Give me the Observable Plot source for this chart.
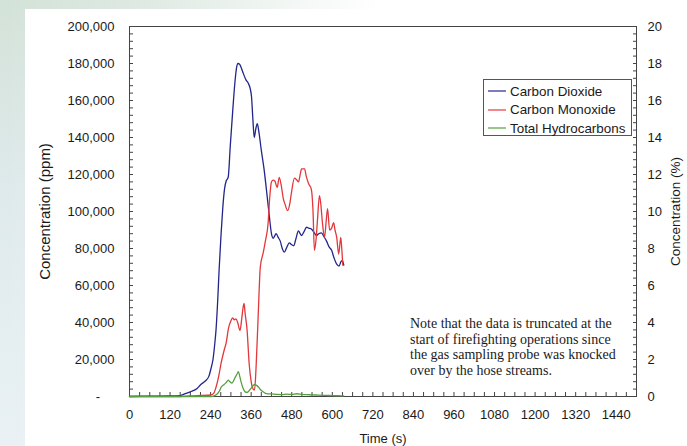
<!DOCTYPE html>
<html>
<head>
<meta charset="utf-8">
<script src="https://cdn.jsdelivr.net/npm/d3@7"></script>
<script src="https://cdn.jsdelivr.net/npm/@observablehq/plot@0.6"></script>
<style>
  html, body { margin: 0; padding: 0; }
  body {
    width: 687px; height: 446px; overflow: hidden; position: relative;
    background:
      linear-gradient(90deg, rgba(255,255,255,0) 0px, rgba(255,255,255,0.2) 120px, #ffffff 380px),
      linear-gradient(180deg, #d3e2d8 0px, #dfeaec 200px, #e9f1f4 446px);
  }
  #panel { position: absolute; left: 25px; top: 9px; right: 0; bottom: 0; background: #fff; }
  #chart { position: absolute; left: 0; top: 0; }
  #legend {
    position: absolute; left: 483px; top: 79px; width: 147px; height: 55px;
    border: 1px solid #555; background: #fff;
    font: 13.4px "Liberation Sans", Arial, sans-serif; color: #1a1a1a;
  }
  #legend .row { position: absolute; left: 4px; height: 18px; display: flex; align-items: center; white-space: nowrap; }
  #legend svg { margin-right: 4px; }
  #note {
    position: absolute; left: 410px; top: 316px;
    font: 14px/15.7px "Liberation Serif", "Times New Roman", serif; color: #1a1a1a;
    white-space: nowrap;
  }
</style>
</head>
<body>
<div id="panel"></div>
<div id="chart"></div>
<div id="legend"></div>
<div id="note"></div>
<script>
// ---- Data ----
const seriesNames = ["Carbon Dioxide", "Carbon Monoxide", "Total Hydrocarbons"];
const seriesColors = ["#22268a", "#e2383c", "#56a040"];

const co2Time = [0, 60, 120, 150, 165, 180, 200, 211, 225, 235, 241, 247, 252, 256, 261, 265, 271, 276, 281, 286, 292, 298, 306, 312, 317, 321, 326, 330, 336, 345, 351, 357, 361, 365, 369, 374, 378, 382, 390, 398, 405, 414, 420, 425, 430, 434, 440, 446, 452, 458, 465, 473, 480, 486, 492, 500, 505, 509, 516, 524, 530, 538, 545, 553, 560, 568, 575, 583, 590, 598, 605, 613, 620, 626, 630, 634];
const co2Ppm  = [0, 200, 300, 500, 1500, 2500, 4300, 6500, 8500, 11000, 15000, 20000, 28000, 36000, 52000, 68000, 88000, 102000, 112000, 116500, 118500, 135000, 156000, 170000, 178000, 180000, 179500, 178000, 175000, 171000, 169500, 166500, 162000, 150000, 140000, 145000, 147500, 144000, 133000, 123000, 112000, 97000, 88000, 85500, 87000, 88000, 86000, 84000, 80000, 78000, 80500, 83000, 82000, 81500, 85000, 89500, 88000, 87000, 89000, 91500, 91000, 90500, 89000, 87000, 88000, 88500, 86500, 84000, 81000, 79000, 75000, 71500, 70500, 73000, 73500, 71000];

const coTime = [0, 150, 180, 240, 250, 256, 264, 271, 280, 286, 293, 300, 305, 310, 315, 320, 327, 332, 336, 339, 342, 348, 354, 360, 366, 370, 375, 381, 387, 396, 402, 410, 415, 420, 425, 430, 437, 443, 449, 455, 460, 468, 474, 479, 488, 495, 500, 505, 509, 518, 523, 530, 538, 543, 547, 552, 556, 562, 566, 571, 577, 582, 586, 592, 598, 604, 608, 613, 619, 625, 628, 631];
const coPpm  = [0, 0, 300, 800, 2000, 5000, 11000, 18000, 25000, 29000, 37000, 41000, 42500, 41500, 42000, 40000, 35700, 42000, 48000, 50300, 45000, 35700, 17800, 8000, 4000, 3500, 17800, 45000, 70000, 78000, 84000, 93500, 108000, 116000, 117000, 116500, 113000, 118500, 114000, 107000, 104000, 100500, 104000, 110000, 118000, 117000, 116000, 120000, 123000, 123000, 119000, 115000, 112000, 100000, 79000, 85000, 95000, 108600, 104000, 93500, 86000, 95000, 101600, 90000, 91000, 94000, 90000, 86000, 77000, 86000, 80000, 71000];

const thcTime = [0, 240, 252, 260, 266, 271, 280, 286, 292, 297, 303, 308, 313, 318, 322, 326, 330, 336, 342, 348, 354, 360, 366, 371, 376, 382, 390, 398, 405, 420, 435, 450, 465, 480, 495, 510, 525, 540, 560, 580, 600, 620, 634];
const thcPpm  = [0, 0, 500, 1500, 3000, 5000, 6500, 7500, 8800, 8000, 7200, 8500, 10500, 12000, 13500, 11000, 8000, 4500, 2500, 2200, 3200, 4500, 6000, 6500, 6000, 5000, 3200, 2200, 1600, 1400, 1200, 1000, 1300, 1100, 1500, 1200, 1000, 900, 700, 600, 500, 400, 300];

const xMajorTicks = d3.range(0, 1441, 120);
const xMinorTicks = d3.range(0, 1501, 30);
const yMajorTicks = d3.range(0, 200001, 20000);
const yMinorTicks = d3.range(0, 200001, 4000);
const noteLines = [
  "Note that the data is truncated at the",
  "start of firefighting operations since",
  "the gas sampling probe was knocked",
  "over by the hose streams."
];

// ---- Build table ----
const rows = [];
[[co2Time, co2Ppm], [coTime, coPpm], [thcTime, thcPpm]].forEach(([ts, vs], i) => {
  ts.forEach((t, j) => rows.push({series: seriesNames[i], t, v: vs[j]}));
});

const fmt = d3.format(",");
const axisColor = "#444";

const chart = Plot.plot({
  width: 687,
  height: 446,
  marginLeft: 129,
  marginRight: 51,
  marginTop: 26,
  marginBottom: 50,
  style: {background: "transparent", fontFamily: "'Liberation Sans', Arial, sans-serif", fontSize: "13px", color: "#1a1a1a"},
  x: {domain: [0, 1500]},
  y: {domain: [0, 200000]},
  color: {domain: seriesNames, range: seriesColors},
  marks: [
    Plot.frame({stroke: axisColor, strokeWidth: 1}),
    // bottom axis
    Plot.axisX(xMajorTicks, {tickSize: 0, tickPadding: 13, tickFormat: d => String(d), label: "Time (s)", labelAnchor: "center", labelOffset: 46, labelArrow: "none", fontSize: 13}),
    Plot.axisX(xMinorTicks, {text: null, tickSize: -4, stroke: axisColor, label: null}),
    // left axis
    Plot.axisY(yMajorTicks, {anchor: "left", tickSize: 0, tickPadding: 15, tickFormat: d => d === 0 ? "-\u2007\u2007" : fmt(d), label: "Concentration (ppm)", labelAnchor: "center", labelOffset: 90, labelArrow: "none", fontSize: 13}),
    Plot.axisY(yMinorTicks, {anchor: "left", text: null, tickSize: -4, stroke: axisColor, label: null}),
    // right axis (percent)
    Plot.axisY(yMajorTicks, {anchor: "right", tickSize: 0, tickPadding: 11, tickFormat: d => String(d / 10000), label: "Concentration (%)", labelAnchor: "center", labelOffset: 43, labelArrow: "none", fontSize: 13}),
    Plot.axisY(yMinorTicks, {anchor: "right", text: null, tickSize: -4, stroke: axisColor, label: null}),
    Plot.line(rows, {x: "t", y: "v", z: "series", stroke: "series", strokeWidth: 1.3, curve: "monotone-x"})
  ]
});
// axis title sizes
const yLabels = d3.select(chart).selectAll('g[aria-label="y-axis label"]');
yLabels.each(function(d, i) { d3.select(this).attr("font-size", i === 0 ? 15 : 13.5); });
document.getElementById("chart").appendChild(chart);

// ---- Legend ----
const legend = d3.select("#legend");
seriesNames.forEach((name, i) => {
  const row = legend.append("div").attr("class", "row").style("top", (2 + i * 18.5) + "px");
  const sw = row.append("svg").attr("width", 18).attr("height", 10);
  sw.append("line").attr("x1", 0).attr("x2", 18).attr("y1", 5).attr("y2", 5)
    .attr("stroke", seriesColors[i]).attr("stroke-width", 1.2);
  row.append("span").text(name);
});

// ---- Note ----
d3.select("#note").selectAll("div").data(noteLines).join("div").text(d => d);
</script>
</body>
</html>
